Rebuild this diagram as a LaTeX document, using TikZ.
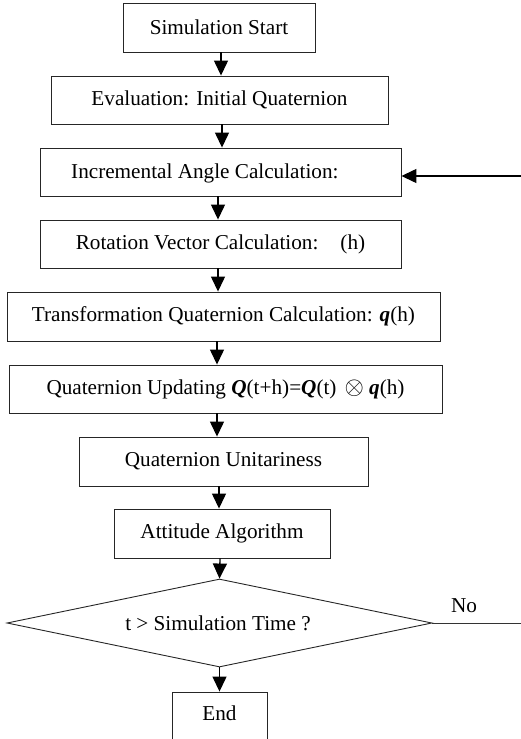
\documentclass[tikz,border=0pt]{standalone}
\usepackage{fontspec}
\setmainfont{Liberation Serif}
\usetikzlibrary{arrows.meta,shapes.geometric}
\begin{document}
\begin{tikzpicture}[x=1pt,y=-1pt,
  font=\fontsize{21.2}{25}\selectfont,
  box/.style={draw=black!85,line width=0.9pt,minimum width=#1,inner sep=0pt,minimum height=48pt},
  arr/.style={line width=1.3pt,-{Triangle[length=15pt,width=14pt]}},
  ln/.style={line width=1pt,draw=black!80}]
\useasboundingbox (0,0) rectangle (521,739);
\clip (0,0) rectangle (521,739);
\node[box=192pt,minimum height=49pt] (s1) at (219,27.5) {Simulation Start};
\node[box=337pt] (s2) at (219.5,100) {Evaluation: Initial Quaternion};
\node[box=361pt] (s3) at (220.5,172) {};
\node[anchor=west,inner sep=0pt] (t3) at (71,173) {Incremental Angle Calculation:};
\node[box=361pt] (s4) at (220.5,244) {Rotation Vector Calculation:\hspace{22pt}(h)};
\node[box=433pt,minimum height=49pt] (s5) at (223.5,316.5) {Transformation Quaternion Calculation: \textbf{\textit{q}}(h)};
\node[box=433pt] (s6) at (225.5,389) {Quaternion Updating \textbf{\textit{Q}}(t+h)=\textbf{\textit{Q}}(t)\hspace{8pt}{\fontsize{29}{29}\selectfont$\otimes$} \textbf{\textit{q}}(h)};
\node[box=289pt,minimum height=49pt] (s7) at (223.5,461.5) {Quaternion Unitariness};
\node[box=216pt,minimum height=49pt] (s8) at (222,533.5) {Attitude Algorithm};
\node[draw=black!85,line width=0.9pt,shape=diamond,aspect=4.83,minimum width=425pt,minimum height=88pt,inner sep=0pt] (d) at (219.5,623) {};
\node[inner sep=0pt] (td) at (218,623) {t > Simulation Time ?};
\node[box=95pt,minimum height=70pt] (e) at (219.5,727) {};
\node[inner sep=0pt] (te) at (219.5,713) {End};
% connectors
\coordinate (a1) at (221,0); \coordinate (a2) at (222,0); \coordinate (a3) at (218,0);
\coordinate (a5) at (217,0); \coordinate (a7) at (219,0); \coordinate (a8) at (220,0);
\draw[arr] (s1.south -| a1) -- (s2.north -| a1);
\draw[arr] (s2.south -| a2) -- (s3.north -| a2);
\draw[arr] (s3.south -| a3) -- (s4.north -| a3);
\draw[arr] (s4.south -| a3) -- (s5.north -| a3);
\draw[arr] (s5.south -| a5) -- (s6.north -| a5);
\draw[arr] (s6.south -| a5) -- (s7.north -| a5);
\draw[arr] (s7.south -| a7) -- (s8.north -| a7);
\draw[arr] (s8.south -| a8) -- (d.north);
\draw[arr] (d.south) -- (e.north -| d.south);
\coordinate (inR) at (521,176);
\draw[arr] (inR) -- (inR -| s3.east);
\coordinate (noR) at (521,623);
\draw[ln] (d.east) -- (noR);
\node[inner sep=0pt] (no) at (464,606) {No};
\end{tikzpicture}
\end{document}
